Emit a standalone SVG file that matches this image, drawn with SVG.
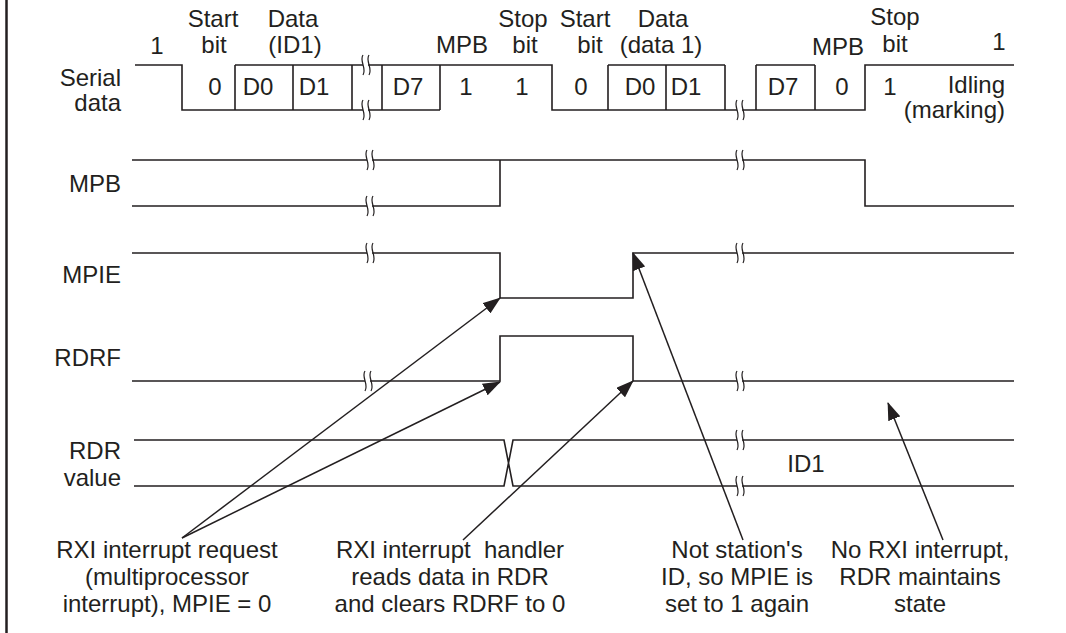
<svg xmlns="http://www.w3.org/2000/svg" xmlns:xlink="http://www.w3.org/1999/xlink" width="1066" height="633" viewBox="0 0 1066 633">
<style>
text{font-family:"Liberation Sans",Arial,sans-serif;font-size:24px;fill:#231f20}
.m{text-anchor:middle}
.r{text-anchor:end}
.w{fill:none;stroke:#231f20;stroke-width:1.6}
.brk{fill:none;stroke:#231f20;stroke-width:1.2}
.ar{fill:none;stroke:#231f20;stroke-width:1.5}
</style>
<defs>
<g id="brk">
<rect x="-3" y="-3" width="5" height="6" fill="#fff"/>
<path class="brk" d="M-3,-10 C-7,-4 1,3 -3,10 M3,-10 C-1,-4 7,3 3,10"/>
</g>
<marker id="ah" markerUnits="userSpaceOnUse" markerWidth="18" markerHeight="13" refX="17" refY="6.5" orient="auto">
<path d="M0,0 L18,6.5 L0,13 Z" fill="#231f20"/>
</marker>
</defs>
<rect width="1066" height="633" fill="#fff"/>
<line x1="6.5" y1="0" x2="6.5" y2="633" stroke="#231f20" stroke-width="2.5"/>

<g id="labels">
<text class="r" x="121" y="86">Serial</text>
<text class="r" x="121" y="111">data</text>
<text class="r" x="121" y="192">MPB</text>
<text class="r" x="121" y="283">MPIE</text>
<text class="r" x="121" y="366">RDRF</text>
<text class="r" x="121" y="459">RDR</text>
<text class="r" x="121" y="486">value</text>
</g>

<g id="serial">
<path class="w" d="M135,65 H182 V110 H440 M235,65 H552 V110 H865 V65 H1014 M608,65 H725 M756,65 H815 M235,65 V110 M293,65 V110 M352,65 V110 M382,65 V110 M440,65 V110 M608,65 V110 M666,65 V110 M725,65 V110 M756,65 V110 M815,65 V110"/>
<use xlink:href="#brk" x="366" y="65"/>
<use xlink:href="#brk" x="366" y="110"/>
<use xlink:href="#brk" x="740" y="110"/>
<text class="m" x="157" y="54">1</text>
<text class="m" x="213" y="27">Start</text>
<text class="m" x="214" y="53">bit</text>
<text class="m" x="293" y="27">Data</text>
<text class="m" x="295" y="53">(ID1)</text>
<text class="m" x="462" y="53">MPB</text>
<text class="m" x="523" y="27">Stop</text>
<text class="m" x="525" y="53">bit</text>
<text class="m" x="585" y="27">Start</text>
<text class="m" x="590" y="53">bit</text>
<text class="m" x="663" y="27">Data</text>
<text class="m" x="661" y="53">(data 1)</text>
<text class="m" x="838" y="55">MPB</text>
<text class="m" x="895" y="25">Stop</text>
<text class="m" x="895" y="52">bit</text>
<text class="m" x="999" y="50">1</text>
<text class="m" x="215" y="95">0</text>
<text class="m" x="258" y="95">D0</text>
<text class="m" x="314" y="95">D1</text>
<text class="m" x="408" y="95">D7</text>
<text class="m" x="466" y="95">1</text>
<text class="m" x="522" y="95">1</text>
<text class="m" x="581" y="95">0</text>
<text class="m" x="640" y="95">D0</text>
<text class="m" x="686" y="95">D1</text>
<text class="m" x="783" y="95">D7</text>
<text class="m" x="842" y="95">0</text>
<text class="m" x="890" y="95">1</text>
<text class="r" x="1005" y="93">Idling</text>
<text class="r" x="1005" y="118">(marking)</text>
</g>

<g id="mpb">
<path class="w" d="M132,160 H865 V206 H1014 M132,206 H500 V160"/>
<use xlink:href="#brk" x="370" y="160"/>
<use xlink:href="#brk" x="370" y="206"/>
<use xlink:href="#brk" x="740" y="160"/>
</g>

<g id="mpie">
<path class="w" d="M132,253 H500 V298 H633 V253 H1014"/>
<use xlink:href="#brk" x="370" y="253"/>
<use xlink:href="#brk" x="740" y="253"/>
</g>

<g id="rdrf">
<path class="w" d="M132,381 H500 V336 H633 V381 H1014"/>
<use xlink:href="#brk" x="368" y="381"/>
<use xlink:href="#brk" x="740" y="381"/>
</g>

<g id="rdr">
<path class="w" d="M134,440 H504 L513,486 H1014 M134,486 H504 L513,440 H1014"/>
<use xlink:href="#brk" x="740" y="440"/>
<use xlink:href="#brk" x="740" y="486"/>
<text class="m" x="806" y="472">ID1</text>
</g>

<g id="connectors">
<line class="ar" x1="182" y1="538" x2="500" y2="298" marker-end="url(#ah)"/>
<line class="ar" x1="182" y1="538" x2="500" y2="382" marker-end="url(#ah)"/>
<line class="ar" x1="463" y1="540" x2="633" y2="381" marker-end="url(#ah)"/>
<line class="ar" x1="743" y1="540" x2="633" y2="253" marker-end="url(#ah)"/>
<line class="ar" x1="943" y1="540" x2="888" y2="403" marker-end="url(#ah)"/>
</g>

<g id="note1">
<text class="m" x="167" y="558">RXI interrupt request</text>
<text class="m" x="167" y="585">(multiprocessor</text>
<text class="m" x="167" y="612">interrupt), MPIE = 0</text>
</g>
<g id="note2">
<text class="m" x="450" y="558" xml:space="preserve">RXI interrupt  handler</text>
<text class="m" x="450" y="585">reads data in RDR</text>
<text class="m" x="450" y="612">and clears RDRF to 0</text>
</g>
<g id="note3">
<text class="m" x="737" y="558">Not station's</text>
<text class="m" x="737" y="585">ID, so MPIE is</text>
<text class="m" x="737" y="612">set to 1 again</text>
</g>
<g id="note4">
<text class="m" x="920" y="558">No RXI interrupt,</text>
<text class="m" x="920" y="585">RDR maintains</text>
<text class="m" x="920" y="612">state</text>
</g>
</svg>
